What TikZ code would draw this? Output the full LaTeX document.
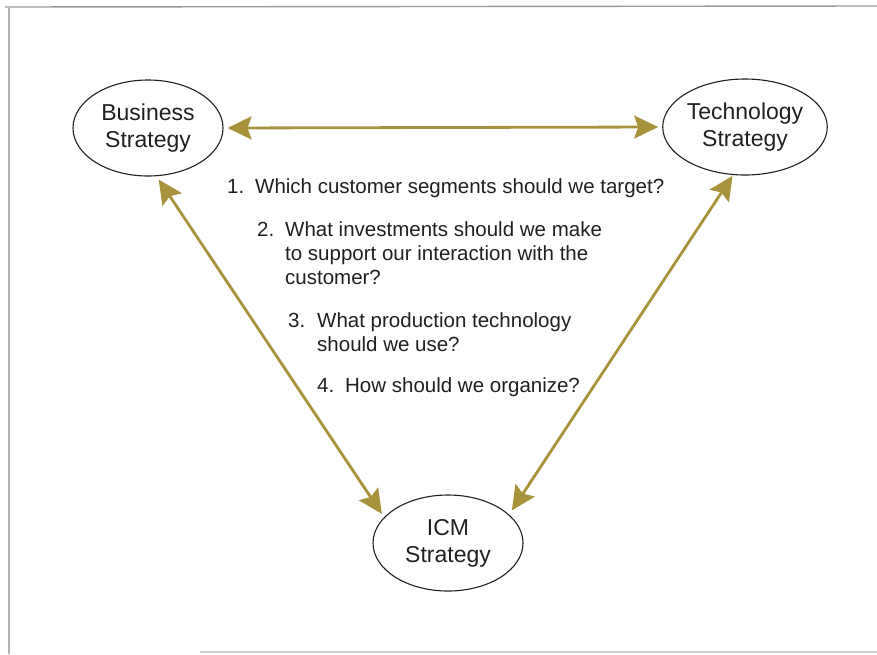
\documentclass[tikz,border=0pt]{standalone}
\usepackage{fontspec}
\setmainfont{Liberation Sans}
\usetikzlibrary{arrows.meta,shapes.geometric}
\definecolor{linkgold}{HTML}{A8923C}
\definecolor{inkgray}{HTML}{202020}
\begin{document}
\begin{tikzpicture}[x=1pt,y=-1pt,
  strat/.style={ellipse,draw=inkgray,line width=1.1pt,minimum width=150pt,
    minimum height=96pt,inner sep=0pt,align=center,text=inkgray,
    font=\fontsize{23}{27}\selectfont},
  link/.style={draw=linkgold,line width=2.8pt,
    {Stealth[length=24pt,width=23pt,inset=4pt]}-{Stealth[length=24pt,width=23pt,inset=4pt]}},
  question/.style={anchor=base west,inner sep=0pt,text=inkgray,
    font=\fontsize{20.5}{24}\selectfont},
  frameline/.style={line width=1.4pt}]
  \useasboundingbox (0,0) rectangle (877,654);

  % page frame
  \draw[frameline,draw=gray!80] (5,7) -- (877,6);
  \draw[frameline,draw=gray!60] (9,7) -- (9,654);
  \draw[frameline,draw=gray!35] (200,652) -- (877,652);

  % the three strategies
  \node[strat] (B) at (148,128) {Business\\Strategy};
  \node[strat] (T) at (745,127) {Technology\\Strategy};
  \node[strat] (I) at (448,543) {ICM\\Strategy};

  % two-way links
  \draw[link,shorten <=4pt,shorten >=4pt] (B.east) -- (T.west);
  \draw[link,shorten <=4pt,shorten >=4pt] (B.-80) -- (I.158);
  \draw[link,shorten <=1pt,shorten >=5pt] (T.-104) -- (I.25);

  % questions
  \node[question] (q1) at (227,193)
    {\begin{tabular}[t]{@{}p{28pt}@{}l@{}}1. & Which customer segments should we target?\end{tabular}};
  \node[question] (q2) at (257,236)
    {\begin{tabular}[t]{@{}p{28pt}@{}l@{}}2. & What investments should we make\\
      & to support our interaction with the\\ & customer?\end{tabular}};
  \node[question] (q3) at (288,327)
    {\begin{tabular}[t]{@{}p{29pt}@{}l@{}}3. & What production technology\\
      & should we use?\end{tabular}};
  \node[question] (q4) at (317,392)
    {\begin{tabular}[t]{@{}p{28pt}@{}l@{}}4. & How should we organize?\end{tabular}};
\end{tikzpicture}
\end{document}
